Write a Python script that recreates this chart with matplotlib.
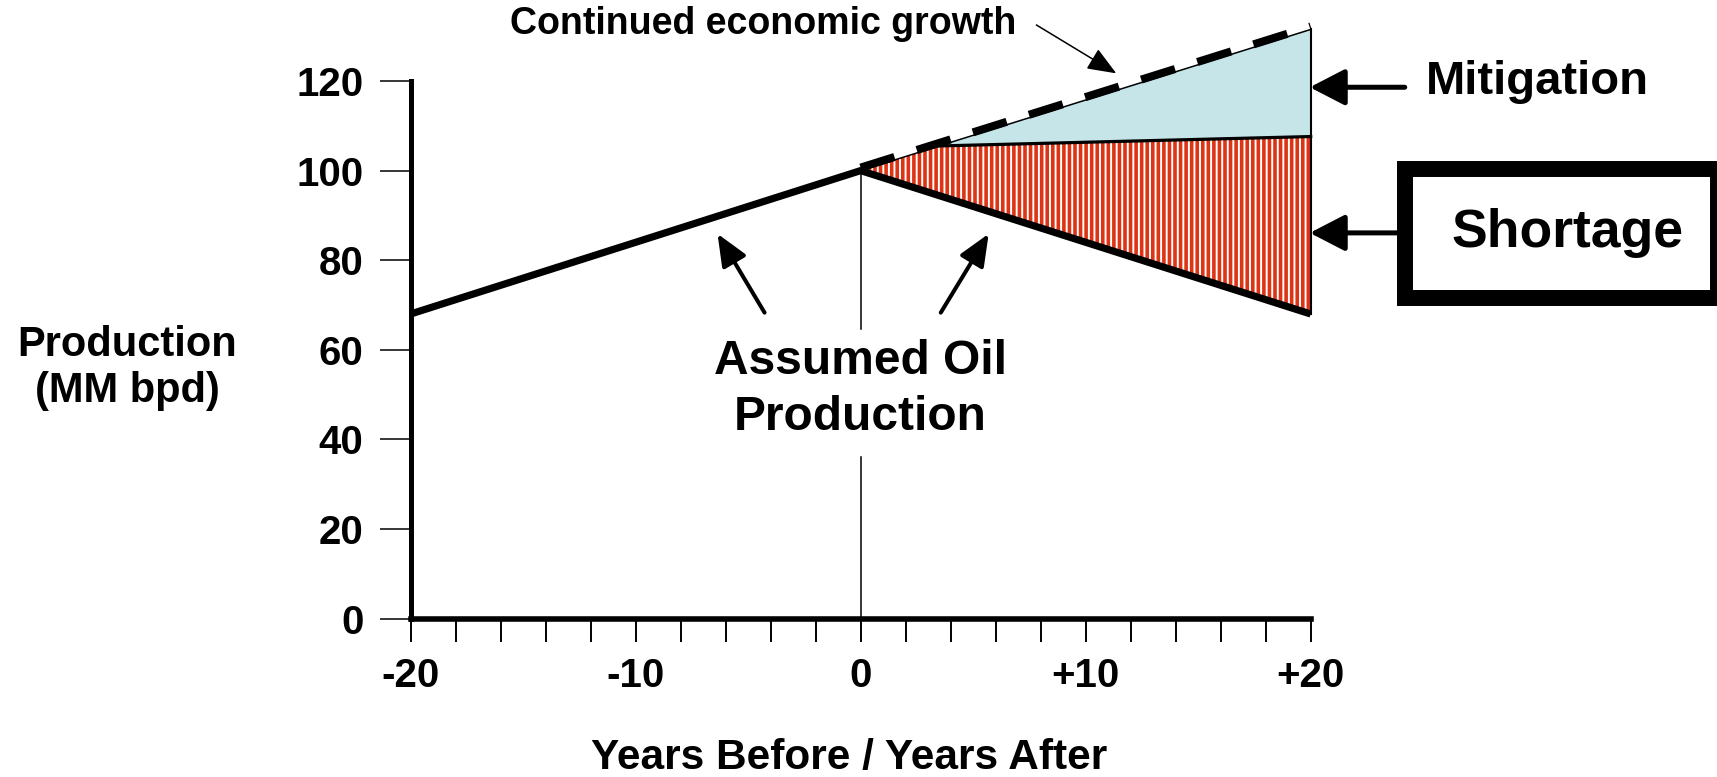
import matplotlib
matplotlib.use("Agg")
import matplotlib.pyplot as plt
from matplotlib.patches import Polygon, Rectangle
from matplotlib.transforms import offset_copy

plt.rcParams['font.family'] = ['Liberation Sans', 'DejaVu Sans']
plt.rcParams['font.weight'] = 'bold'
plt.rcParams['hatch.linewidth'] = 2.6

# ---- data ----
years_prod = [-20, 0, 20]
production = [68, 100, 68]

years_growth = [0, 20]
growth = [100, 131.5]

mitig_years = [3.5, 20, 20]
mitig_vals = [105.5, 131.5, 107.6]

short_years = [0, 3.5, 20, 20]
short_vals = [100, 105.5, 107.6, 68]

x_major = [-20, -10, 0, 10, 20]
x_labels = ['-20', '-10', '0', '+10', '+20']
x_minor = list(range(-20, 21, 2))
y_ticks = [0, 20, 40, 60, 80, 100, 120]

blue = '#C5E5E9'
red = '#DC3414'

W, H = 1717, 777
fig = plt.figure(figsize=(W / 100, H / 100), dpi=100)
ax = fig.add_axes([410.6 / W, 0.20373, 900.1 / W, 0.77855])
ax.set_xlim(-20, 20)
ax.set_ylim(0, 135)

# spines
for s in ['top', 'right']:
    ax.spines[s].set_visible(False)
ax.spines['left'].set_bounds(0, 120)
ax.spines['left'].set_linewidth(3.6)
ax.spines['bottom'].set_linewidth(4.0)

ax.set_yticks(y_ticks)
ax.set_yticklabels([str(v) for v in y_ticks])
ax.set_xticks(x_major)
ax.set_xticklabels(x_labels)
ax.set_xticks(x_minor, minor=True)
ax.tick_params(axis='y', direction='out', length=22, width=1.1, pad=12,
               labelsize=29)
ax.tick_params(axis='x', which='both', direction='out', length=16.6,
               width=1.4, pad=10.8, labelsize=29)

# mitigation (blue) region
ax.add_patch(Polygon(list(zip(mitig_years, mitig_vals)), closed=True,
                     facecolor=blue, edgecolor='none', zorder=2,
                     clip_on=False))
# shortage (red hatch) region
ax.add_patch(Polygon(list(zip(short_years, short_vals)), closed=True,
                     facecolor='white', edgecolor=red, linewidth=0,
                     hatch='|||', zorder=2, clip_on=False))

# edges
ax.plot(short_years[1:3], short_vals[1:3], color='k', lw=2.3, zorder=4,
        clip_on=False)
ax.plot([20, 20], [production[-1], growth[-1]], color='k', lw=1.5, zorder=4,
        clip_on=False)
ax.plot(years_growth, growth, color='k', lw=1.1, zorder=4, clip_on=False)
ax.plot(years_growth, growth, color='k', lw=5.8, dashes=(4.4, 2.9),
        zorder=5, clip_on=False, solid_capstyle='butt', dash_capstyle='butt',
        transform=offset_copy(ax.transData, fig=fig, x=0, y=3, units='dots'))

# vertical reference line at year 0 (gap behind the label)
ax.plot([0, 0], [0, 36.1], color='k', lw=1.1, zorder=3)
ax.plot([0, 0], [64.6, 100], color='k', lw=1.1, zorder=3)

# assumed production line
ax.plot(years_prod, production, color='k', lw=5.2, zorder=6, clip_on=False,
        solid_capstyle='butt', solid_joinstyle='miter')


def arrow(tail, tip, lw, hl_px, hw_px):
    style = '-|>,head_length=%.2f,head_width=%.2f' % (hl_px * 0.72,
                                                      hw_px * 0.36)
    ax.annotate('', xy=tip, xytext=tail, xycoords='data',
                textcoords='data', annotation_clip=False,
                arrowprops=dict(arrowstyle=style, mutation_scale=1,
                                lw=lw, color='k', shrinkA=0, shrinkB=0),
                zorder=7)


# labels
ax.text(0, 51.2, 'Assumed Oil\nProduction', ha='center', va='center',
        fontsize=34.5, linespacing=1.3, zorder=7)
arrow((-4.27, 68.3), (-6.36, 85.9), 2.9, 27, 23)
arrow((3.56, 68.3), (5.69, 85.9), 2.9, 27, 23)

ax.text(-4.31, 132.7, 'Continued economic growth', ha='center',
        va='center', fontsize=27, clip_on=False)
arrow((7.81, 132.5), (11.36, 121.7), 1.1, 25, 20)

ax.text(25.1, 119.8, 'Mitigation', ha='left', va='center', fontsize=34,
        clip_on=False)
arrow((24.18, 118.6), (19.96, 118.6), 3.6, 30, 31)

ax.add_patch(Rectangle((24.2, 71.6), 13.9, 28.8, fill=False, lw=11.5,
                       edgecolor='k', clip_on=False, joinstyle='miter'))
ax.text(31.4, 86.1, 'Shortage', ha='center', va='center', fontsize=38.5,
        clip_on=False)
arrow((24.0, 86.1), (19.96, 86.1), 3.6, 30, 31)

fig.text(127.6 / W, 1 - 368 / H, 'Production\n(MM bpd)', ha='center',
         va='center', fontsize=30, linespacing=1.17)
fig.text(849 / W, 1 - 757.5 / H, 'Years Before / Years After', ha='center',
         va='center', fontsize=30.5)

fig.savefig('out.png', dpi=100)
